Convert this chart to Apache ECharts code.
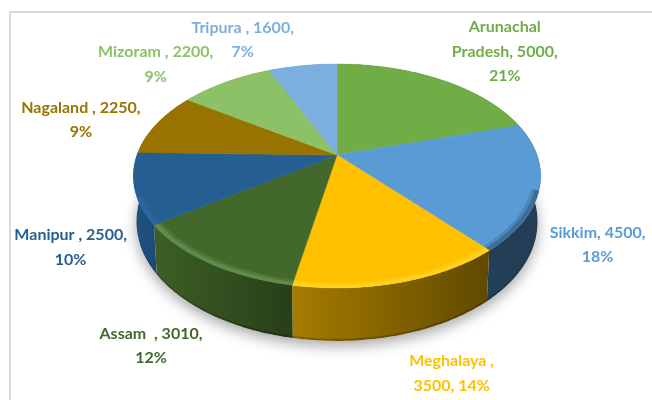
<!DOCTYPE html>
<html lang="en">
<head>
  <meta charset="UTF-8">
  <title>States pie</title>
  <style>
    * { margin: 0; padding: 0; }
    body { background: #ffffff; }
    #chart { width: 652px; height: 400px; }
  </style>
</head>
<body>
  <div id="chart"></div>
  <script src="https://cdn.jsdelivr.net/npm/echarts@6/dist/echarts.min.js"></script>
  <script type="text/javascript">
  var states = ['Arunachal Pradesh', 'Sikkim', 'Meghalaya', 'Assam', 'Manipur', 'Nagaland', 'Mizoram', 'Tripura'];
  var values = [5000, 4500, 3500, 3010, 2500, 2250, 2200, 1600];
  var labels = [
    'Arunachal\nPradesh, 5000,\n21%',
    'Sikkim, 4500,\n18%',
    'Meghalaya ,\n3500, 14%',
    'Assam  , 3010,\n12%',
    'Manipur , 2500,\n10%',
    'Nagaland , 2250,\n9%',
    'Mizoram , 2200,\n9%',
    'Tripura , 1600,\n7%'
  ];

  // styling, one entry per slice
  var topColors = ['#70AD47', '#5B9BD5', '#FFC000', '#43682B', '#255E91', '#997300', '#8CC168', '#7CAFDD'];
  var wallFrom = ['#4f7a32', '#233F58', '#A67C00', '#3D5F26', '#1F5285', '#6b5000', '#628a49', '#577a9b'];
  var wallTo = ['#4f7a32', '#223D55', '#604900', '#283F18', '#1D4A75', '#6b5000', '#628a49', '#577a9b'];
  var rimColors = ['#70AD47', '#3f6c95', '#FFD21F', '#5F8C4B', '#2A67A0', '#997300', '#8CC168', '#7CAFDD'];
  // label offset from the slice's rim midpoint
  var labelNudge = [[64, -28], [58, 58], [51, 91], [-58, 83], [-64, 59], [-76, -4], [-70, -18], [-60, -26]];

  // the pie top is a circle seen in perspective, so the slices meet off the ellipse centre
  var cx = 337, cy = 155, rx = 200, ry = 108, persp = 0.1875;
  var total = values.reduce(function (a, b) { return a + b; }, 0);

  function startAngle(i) {
    var sum = 0;
    for (var k = 0; k < i; k++) sum += values[k];
    return sum / total * Math.PI * 2;
  }

  function project(angle, floor, radius) {
    var r = radius === undefined ? 1 : radius;
    var x = r * Math.sin(angle), y = -r * Math.cos(angle);
    var w = 1 - persp * y;
    return [
      cx + rx * x / w * (1 - floor * 0.015),
      cy + ry * y / w + floor * (44 + 9 * y)
    ];
  }

  function arc(a0, a1, floor, radius) {
    var pts = [];
    var n = Math.max(2, Math.ceil((a1 - a0) / 0.02));
    for (var i = 0; i <= n; i++) pts.push(project(a0 + (a1 - a0) * i / n, floor, radius));
    return pts;
  }

  // part of an arc at the front of the pie, where the bevel shows
  function frontRange(a0, a1) {
    var from = Math.PI * 0.6, to = Math.PI * 1.38;
    return [Math.max(a0, from), Math.min(a1, to)];
  }

  function renderShadow() {
    return {
      type: 'polygon',
      shape: { points: arc(0, Math.PI * 2, 1) },
      style: { fill: '#ffffff', shadowBlur: 14, shadowOffsetY: 5, shadowColor: 'rgba(0,0,0,0.35)' }
    };
  }

  function renderWall(params) {
    var i = params.dataIndex;
    var a0 = startAngle(i), a1 = a0 + values[i] / total * Math.PI * 2;
    var front = frontRange(a0, a1);
    var children = [{
      type: 'polygon',
      shape: { points: arc(a0, a1, 0).concat(arc(a0, a1, 1).reverse()) },
      style: {
        fill: new echarts.graphic.LinearGradient(0, 0, 1, 0, [
          { offset: 0, color: wallFrom[i] },
          { offset: 1, color: wallTo[i] }
        ])
      }
    }];
    if (front[1] > front[0]) {
      // darker lower edge of the wall
      children.push({
        type: 'polygon',
        shape: { points: arc(front[0], front[1], 1).concat(arc(front[0], front[1], 0.96).reverse()) },
        style: { fill: 'rgba(0,0,0,0.22)' }
      });
    }
    return { type: 'group', children: children };
  }

  function renderTop(params) {
    var i = params.dataIndex;
    var a0 = startAngle(i), a1 = a0 + values[i] / total * Math.PI * 2;
    var front = frontRange(a0, a1);
    var children = [{
      type: 'polygon',
      shape: { points: [[cx, cy]].concat(arc(a0, a1, 0)) },
      style: { fill: topColors[i], stroke: topColors[i], lineWidth: 0.5 }
    }];
    if (front[1] > front[0]) {
      // bevel: two bands from the rim inward, so the edge fades into the top
      [[0.965, 0.45], [0.98, 1]].forEach(function (band) {
        children.push({
          type: 'polygon',
          shape: { points: arc(front[0], front[1], 0).concat(arc(front[0], front[1], 0, band[0]).reverse()) },
          style: { fill: rimColors[i], opacity: band[1] }
        });
      });
    }
    return { type: 'group', children: children };
  }

  function renderLabel(params) {
    var i = params.dataIndex;
    var mid = project(startAngle(i) + values[i] / total * Math.PI, 0);
    return {
      type: 'text',
      style: {
        text: labels[i],
        x: mid[0] + labelNudge[i][0],
        y: mid[1] + labelNudge[i][1],
        fill: topColors[i],
        font: 'bold 16px Lato',
        lineHeight: 24.5,
        align: 'center',
        verticalAlign: 'middle'
      }
    };
  }

  function main () {
    var chart = echarts.init(document.getElementById('chart'));
    var sliceData = states.map(function (name, i) { return { name: name, value: values[i] }; });
    chart.setOption({
      animation: false,
      backgroundColor: '#ffffff',
      graphic: [{
        type: 'rect',
        shape: { x: 10, y: 12, width: 700, height: 500 },
        style: { fill: null, stroke: '#d9d9d9', lineWidth: 2 },
        silent: true
      }],
      series: [
        { type: 'custom', coordinateSystem: 'none', silent: true, z: 2, data: [total], renderItem: renderShadow },
        { type: 'custom', coordinateSystem: 'none', silent: true, z: 3, data: sliceData, renderItem: renderWall },
        { type: 'custom', coordinateSystem: 'none', silent: true, z: 4, data: sliceData, renderItem: renderTop },
        { type: 'custom', coordinateSystem: 'none', silent: true, z: 5, data: sliceData, renderItem: renderLabel }
      ]
    });
  }

  window.addEventListener('load', main);
  </script>
</body>
</html>
